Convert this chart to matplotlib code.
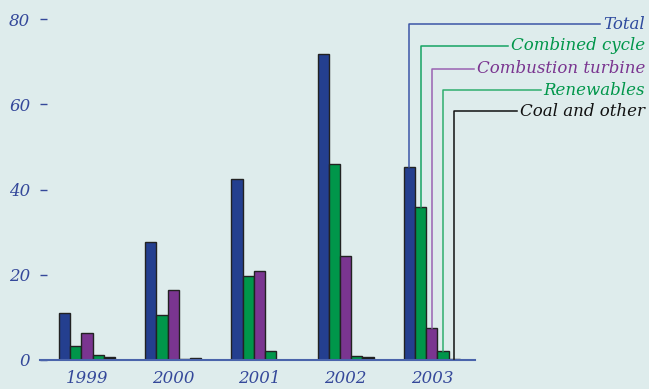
import numpy as np
import matplotlib
matplotlib.use('Agg')
import matplotlib.pyplot as plt
from matplotlib.transforms import blended_transform_factory

# values
years = ['1999', '2000', '2001', '2002', '2003']
total = [11.0, 27.6, 42.5, 71.8, 45.3]
combined_cycle = [3.3, 10.5, 19.7, 46.0, 35.9]
combustion_turbine = [6.3, 16.4, 20.9, 24.4, 7.5]
renewables = [1.2, 0.3, 2.1, 1.0, 2.0]
coal_other = [0.6, 0.5, 0.1, 0.6, 0.2]

series_names = ['Total', 'Combined cycle', 'Combustion turbine', 'Renewables', 'Coal and other']
series_values = [total, combined_cycle, combustion_turbine, renewables, coal_other]
bar_colors = ['#243f8f', '#00964a', '#7a3590', '#00964a', '#1a1a1a']
label_colors = ['#2e4a9e', '#00964a', '#7a3590', '#00964a', '#111111']
leader_colors = ['#3b55a6', '#16a463', '#9a62b2', '#2fae6e', '#111111']
leader_levels = [78.8, 73.7, 68.3, 63.3, 58.4]

bg = '#deecec'
tick_color = '#34489a'
plt.rcParams['font.family'] = 'DejaVu Serif'

fig = plt.figure(figsize=(6.49, 3.89), dpi=100, facecolor=bg)
ax = fig.add_axes([40 / 649, 29 / 389, 435 / 649, 341 / 389], facecolor=bg)

x = np.arange(len(years))
w = 0.13
offsets = (np.arange(len(series_names)) - 2) * w
for vals, off, col in zip(series_values, offsets, bar_colors):
    ax.bar(x + off, vals, width=w, color=col, edgecolor='#222222', linewidth=1.0, zorder=2)

ax.set_xlim(-0.545, 4.5)
ax.set_ylim(0, 80)
ax.set_yticks([0, 20, 40, 60, 80])
ax.set_xticks(x)
ax.set_xticklabels(years)
for s in ['top', 'right', 'left']:
    ax.spines[s].set_visible(False)
ax.spines['bottom'].set_color('#4a64ab')
ax.spines['bottom'].set_linewidth(1.5)
ax.spines['bottom'].set_zorder(3)
ax.tick_params(axis='y', direction='in', length=5, width=1, color=tick_color,
               labelcolor=tick_color, labelsize=12, pad=7)
ax.tick_params(axis='x', length=0, labelcolor=tick_color, labelsize=12, pad=7)
for lab in ax.get_xticklabels() + ax.get_yticklabels():
    lab.set_fontstyle('italic')

# leader-line legend pointing at the 2003 bars
fig.canvas.draw()
renderer = fig.canvas.get_renderer()
trans = blended_transform_factory(fig.transFigure, ax.transData)
last = len(years) - 1
for i, name in enumerate(series_names):
    y = leader_levels[i]
    t = ax.text(645 / 649, y, name, transform=trans, ha='right', va='center',
                color=label_colors[i], fontsize=12, fontstyle='italic', clip_on=False)
    bb = t.get_window_extent(renderer)
    x_end = ax.transData.inverted().transform((bb.x0 - 3, 0))[0]
    xb = x[last] + offsets[i]
    ax.plot([xb, xb, x_end], [series_values[i][last], y, y], color=leader_colors[i],
            linewidth=1.1, clip_on=False, zorder=4)

fig.savefig('out.png', dpi=100, facecolor=bg)
